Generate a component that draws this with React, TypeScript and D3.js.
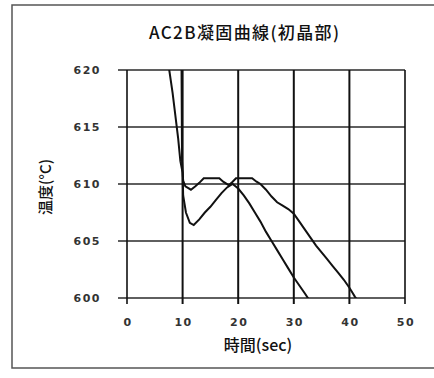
import React, { useEffect, useRef } from "react";
import * as d3 from "d3";

const title = "AC2B凝固曲線(初晶部)";
const xLabel = "時間(sec)";
const yLabel = "温度(°C)";

const xTicks = [0, 10, 20, 30, 40, 50];
const yTicks = [600, 605, 610, 615, 620];

// curve with the deep dip (~606.5) that peaks near 19 s
const timeA = [7.2, 7.6, 8.2, 8.7, 9.2, 9.6, 10.0, 10.1, 10.6, 11.3, 12.0, 13.0, 14.0, 15.0, 16.0, 17.0, 18.0, 19.0, 20.0, 21.0, 22.0, 23.0, 24.0, 25.0, 26.0, 27.0, 28.0, 29.0, 30.0, 31.0, 32.0, 32.8];
const tempA = [621, 620, 618, 616, 614, 612, 611, 609, 607.5, 606.6, 606.4, 606.9, 607.5, 608.0, 608.6, 609.2, 609.7, 610.0, 609.6, 609.0, 608.3, 607.5, 606.7, 605.8, 605.0, 604.2, 603.4, 602.6, 601.8, 601.1, 600.4, 599.8];

// curve that stays near 610 and falls to 600 at ~41 s
const timeB = [9.8, 9.9, 10.1, 10.5, 11.5, 12.3, 13.0, 13.8, 16.6, 17.3, 18.3, 19.0, 19.6, 22.5, 23.3, 24.0, 25.0, 26.0, 27.0, 28.0, 29.0, 30.0, 31.0, 32.0, 33.0, 34.0, 35.0, 36.0, 37.0, 38.0, 39.0, 40.0, 40.5, 41.0, 41.6];
const tempB = [621, 612, 610.3, 609.8, 609.5, 609.8, 610.1, 610.5, 610.5, 610.2, 609.9, 610.2, 610.5, 610.5, 610.2, 610.0, 609.5, 608.9, 608.4, 608.1, 607.8, 607.4, 606.7, 606.0, 605.3, 604.6, 604.0, 603.4, 602.8, 602.2, 601.6, 600.9, 600.5, 600.1, 599.7];

function Chart({ width = 434, height = 378 }) {
  const svgRef = useRef(null);

  useEffect(() => {
    const svg = d3.select(svgRef.current);
    svg.selectAll("*").remove();

    const x = d3.scaleLinear().domain([0, 50]).range([127, 405]);
    const y = d3.scaleLinear().domain([600, 620]).range([298, 70]);

    // outer frame
    svg
      .append("rect")
      .attr("x", 12)
      .attr("y", 5)
      .attr("width", 440)
      .attr("height", 363)
      .attr("fill", "white")
      .attr("stroke", "#555")
      .attr("stroke-width", 1.5);

    svg
      .append("defs")
      .append("clipPath")
      .attr("id", "plot-clip")
      .append("rect")
      .attr("x", x(0))
      .attr("y", y(620))
      .attr("width", x(50) - x(0))
      .attr("height", y(600) - y(620));

    // horizontal grid + left ticks
    svg
      .append("g")
      .selectAll("line")
      .data(yTicks)
      .join("line")
      .attr("x1", x(0) - 9)
      .attr("x2", x(50))
      .attr("y1", (d) => y(d))
      .attr("y2", (d) => y(d))
      .attr("stroke", "#2a2a2a")
      .attr("stroke-width", 1.6);

    // vertical grid + bottom ticks
    svg
      .append("g")
      .selectAll("line")
      .data(xTicks)
      .join("line")
      .attr("x1", (d) => x(d))
      .attr("x2", (d) => x(d))
      .attr("y1", y(620))
      .attr("y2", y(600) + 6)
      .attr("stroke", "#111")
      .attr("stroke-width", (d) => (d === 0 || d === 50 ? 1.6 : 2));

    const line = d3
      .line()
      .x((d) => x(d[0]))
      .y((d) => y(d[1]))
      .curve(d3.curveLinear);

    const seriesA = timeA.map((t, i) => [t, tempA[i]]);
    const seriesB = timeB.map((t, i) => [t, tempB[i]]);

    svg
      .append("g")
      .attr("clip-path", "url(#plot-clip)")
      .selectAll("path")
      .data([seriesA, seriesB])
      .join("path")
      .attr("fill", "none")
      .attr("stroke", "#111")
      .attr("stroke-width", 2)
      .attr("stroke-linejoin", "miter")
      .attr("d", line);

    // tick labels
    svg
      .append("g")
      .selectAll("text")
      .data(yTicks)
      .join("text")
      .attr("x", 101)
      .attr("y", (d) => y(d) + 4)
      .attr("text-anchor", "end")
      .attr("font-family", "DejaVu Sans")
      .attr("font-weight", "bold")
      .attr("font-size", 11)
      .attr("letter-spacing", 1.5)
      .attr("fill", "#333")
      .text((d) => d);

    svg
      .append("g")
      .selectAll("text")
      .data(xTicks)
      .join("text")
      .attr("x", (d) => x(d) + 1)
      .attr("y", 326)
      .attr("text-anchor", "middle")
      .attr("font-family", "DejaVu Sans")
      .attr("font-weight", "bold")
      .attr("font-size", 11)
      .attr("letter-spacing", 1.5)
      .attr("fill", "#333")
      .text((d) => d);

    svg
      .append("text")
      .attr("x", 244)
      .attr("y", 39)
      .attr("text-anchor", "middle")
      .attr("font-family", "Noto Sans CJK JP")
      .attr("font-weight", 500)
      .attr("font-size", 17)
      .attr("fill", "#111")
      .attr("textLength", 190)
      .attr("lengthAdjust", "spacing")
      .text(title);

    svg
      .append("text")
      .attr("x", 258)
      .attr("y", 351)
      .attr("text-anchor", "middle")
      .attr("font-family", "Noto Sans CJK JP")
      .attr("font-weight", 500)
      .attr("font-size", 16)
      .attr("fill", "#111")
      .text(xLabel);

    svg
      .append("text")
      .attr("transform", "translate(51,187) rotate(-90)")
      .attr("text-anchor", "middle")
      .attr("font-family", "Noto Sans CJK JP")
      .attr("font-weight", 500)
      .attr("font-size", 15)
      .attr("fill", "#111")
      .text(yLabel);
  }, [width, height]);

  return <svg ref={svgRef} width={width} height={height}></svg>;
}

export default function App() {
  return (
    <div style={{ position: "absolute", left: 0, top: 0, background: "white" }}>
      <Chart />
    </div>
  );
}
